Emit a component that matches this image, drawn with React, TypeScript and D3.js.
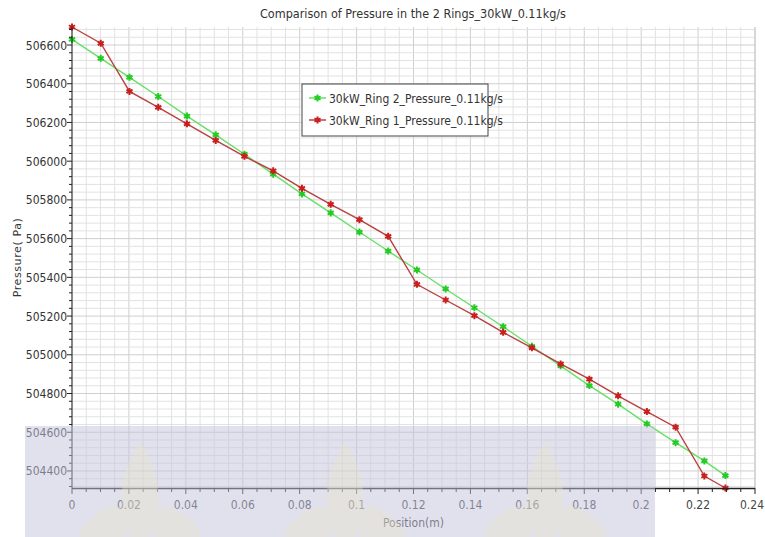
import React from 'react';
import * as d3 from 'd3';

const positions = [0, 0.0101, 0.0202, 0.0303, 0.0404, 0.0505, 0.0606, 0.0707, 0.0808, 0.0909, 0.101, 0.1111,
  0.1212, 0.1313, 0.1414, 0.1515, 0.1616, 0.1717, 0.1818, 0.1919, 0.202, 0.2121, 0.2222, 0.2296];
const ring2 = [506629, 506531, 506433, 506334, 506233, 506136, 506036, 505933, 505831, 505733, 505634, 505536,
  505438, 505340, 505243, 505145, 505044, 504943, 504841, 504745, 504643, 504546, 504452, 504376];
const ring1 = [506693, 506609, 506360, 506278, 506193, 506107, 506025, 505950, 505860, 505777, 505698, 505612,
  505364, 505283, 505202, 505116, 505036, 504953, 504874, 504788, 504707, 504626, 504374, 504312];

const xTickLabels = ['0', '0.02', '0.04', '0.06', '0.08', '0.1', '0.12', '0.14', '0.16', '0.18', '0.2', '0.22', '0.24'];
const yTickLabels = ['504400', '504600', '504800', '505000', '505200', '505400', '505600', '505800', '506000', '506200', '506400', '506600'];

const seriesNames = ['30kW_Ring 2_Pressure_0.11kg/s', '30kW_Ring 1_Pressure_0.11kg/s'];

const W = 765, H = 537;
const margin = { top: 27, right: 10, bottom: 49, left: 72 };

const App = () => {
  const x = d3.scaleLinear().domain([0, 0.24]).range([margin.left, W - margin.right]);
  const yExt = d3.extent([...ring1, ...ring2]) as [number, number];
  const y = d3.scaleLinear().domain(yExt).range([H - margin.bottom, margin.top]);

  const x0 = x(0), x1 = x(0.24), yb = y(yExt[0]), yt = y(yExt[1]);

  // grid / minor tick positions
  const xMinor = d3.range(0, 0.2401, 0.005);
  const yMinor = d3.range(504320, yExt[1], 40);

  const series = [
    { name: seriesNames[0], values: ring2, line: '#66e066', mark: '#22cc22' },
    { name: seriesNames[1], values: ring1, line: '#bb4040', mark: '#c81e1e' },
  ];

  const line = d3.line<number>()
    .x((_, i) => x(positions[i]))
    .y(d => y(d));

  const star = d3.symbol().type(d3.symbolAsterisk).size(34)();

  const font = '"DejaVu Sans Condensed", "DejaVu Sans", sans-serif';

  return (
    <svg width={W} height={H} style={{ position: 'absolute', left: 0, top: 0, background: '#fff' }}>
      {/* grid */}
      <g strokeWidth={1}>
        {xMinor.map((v, i) => (
          <line key={'gx' + i} x1={x(v)} x2={x(v)} y1={yt} y2={yb}
            stroke={i % 4 === 0 ? '#cfcfcf' : '#e2e2e2'} />
        ))}
        {yMinor.map((v, i) => (
          <line key={'gy' + i} x1={x0} x2={x1} y1={y(v)} y2={y(v)}
            stroke={(v - 504400) % 200 === 0 ? '#cfcfcf' : '#e2e2e2'} />
        ))}
        <line x1={x1} x2={x1} y1={yt} y2={yb} stroke="#c8c8c8" />
      </g>

      {/* series */}
      {series.map(s => (
        <g key={s.name}>
          <path d={line(s.values) || ''} fill="none" stroke={s.line} strokeWidth={1.4} />
          {s.values.map((v, i) => (
            <path key={i} d={star || ''} transform={`translate(${x(positions[i])},${y(v)})`}
              fill="none" stroke={s.mark} strokeWidth={2} />
          ))}
        </g>
      ))}

      {/* axes */}
      <g stroke="#222" strokeWidth={1}>
        <line x1={x0} x2={x0} y1={yt} y2={yb} />
        <line x1={x0} x2={x1} y1={yb + 0.5} y2={yb + 0.5} strokeWidth={1.5} />
        {xMinor.map((v, i) => (
          <line key={'tx' + i} x1={x(v)} x2={x(v)} y1={yb} y2={yb + (i % 4 === 0 ? 6 : 4)} />
        ))}
        {yMinor.map((v, i) => (
          <line key={'ty' + i} x1={x0} x2={x0 - ((v - 504400) % 200 === 0 ? 5 : 3)} y1={y(v)} y2={y(v)} />
        ))}
      </g>

      <g fontFamily={font} fontSize={12} fill="#444">
        {xTickLabels.map((t, i) => (
          <text key={t} x={i === xTickLabels.length - 1 ? W - 1 : x(+t)} y={yb + 21}
            textAnchor={i === xTickLabels.length - 1 ? 'end' : 'middle'}>{t}</text>
        ))}
        {yTickLabels.map(t => (
          <text key={t} x={x0 - 5} y={y(+t) + 4.5} textAnchor="end" fill="#333">{t}</text>
        ))}
        <text x={(x0 + x1) / 2} y={H - 10} textAnchor="middle" fontSize={12} fill="#333">Position(m)</text>
        <text transform={`translate(21,${(yt + yb) / 2}) rotate(-90)`} textAnchor="middle"
          fontFamily='"DejaVu Sans", sans-serif' fontSize={11} letterSpacing={0.6} fill="#333">Pressure( Pa)</text>
        <text x={413} y={18} textAnchor="middle" fontSize={12.5} fill="#333">
          Comparison of Pressure in the 2 Rings_30kW_0.11kg/s
        </text>
      </g>

      {/* legend */}
      <g transform="translate(302,84)">
        <rect width={186} height={52} fill="#fff" stroke="#444" strokeWidth={1} />
        {series.map((s, i) => (
          <g key={s.name} transform={`translate(0,${14 + i * 22})`}>
            <line x1={7} x2={24} y1={0} y2={0} stroke={s.line} strokeWidth={1.5} />
            <path d={star || ''} transform="translate(15.5,0)" fill="none" stroke={s.mark} strokeWidth={2} />
            <text x={27} y={4.5} fontFamily={font} fontSize={12} fill="#333">{s.name}</text>
          </g>
        ))}
      </g>

      {/* watermark band */}
      <g pointerEvents="none">
        <rect x={25} y={426} width={630} height={H - 426} fill="#c4c4de" opacity={0.5} />
        {[140, 345, 545].map(cx => (
          <g key={cx} fill="#ece6c2" opacity={0.35}>
            <path d={`M${cx},${442} C${cx + 20},${470} ${cx + 24},${505} ${cx + 10},${537} L${cx - 10},${537} C${cx - 24},${505} ${cx - 20},${470} ${cx},${442} Z`} />
            <path d={`M${cx - 60},${530} C${cx - 40},${505} ${cx - 20},${500} ${cx - 8},${515} L${cx - 15},${537} L${cx - 60},${537} Z`} />
            <path d={`M${cx + 60},${530} C${cx + 40},${505} ${cx + 20},${500} ${cx + 8},${515} L${cx + 15},${537} L${cx + 60},${537} Z`} />
          </g>
        ))}
      </g>
    </svg>
  );
};

export default App;
